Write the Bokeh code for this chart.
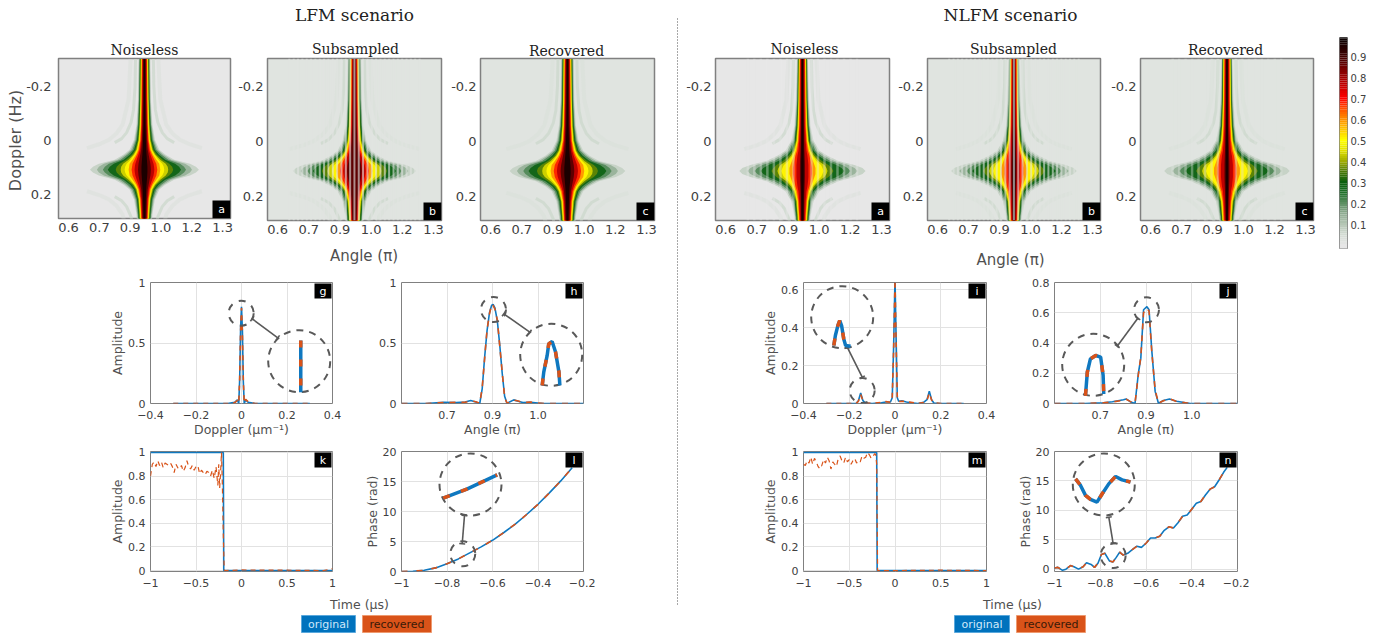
from bokeh.plotting import figure
from bokeh.layouts import column
from bokeh.models import Range1d, FixedTicker, LinearAxis
from bokeh.core.properties import value
from bokeh.embed import file_html
from bokeh.resources import INLINE

BLUE = "#0f78c0"
ORANGE = "#d95319"
GREY = "#595959"
TXT = "#404040"

# ---------- colour map (from the colour bar) ----------
CM_STOPS = [0, .05, .1, .15, .2, .25, .3, .35, .4, .45, .5, .55, .6, .65, .7, .75, .8, .85, .9, .95, 1]
CM_COLS = ["#e6e6e6", "#d3dbd3", "#b5c6b5", "#8fac92", "#5c8f62", "#1f7029", "#0b600f", "#4a7a08", "#a0ac00",
           "#e0e000", "#ffff00", "#ffc800", "#ff9000", "#ff5000", "#ff0000", "#d00000", "#a00000", "#700000",
           "#400000", "#200000", "#000000"]
CB_TICKS = [.1, .2, .3, .4, .5, .6, .7, .8, .9]

# ---------- heat map contours: half-widths (unit 0.0045 pi) per level and Doppler offset ----------
HW_UNIT = 0.0045
DY = [0, .011, .022, .037, .056, .074, .111, .167, .26, .41]
LEVELS = [.04, .10, .17, .24, .32, .40, .47, .55, .63, .72, .82, .92]
LFM_HW = [
    [55, 52, 46, 30, 21, 15, 10.5, 8, 6.5, 6],
    [48, 46, 41, 27, 19, 13.5, 9.5, 7.2, 6, 5.5],
    [42, 40, 36, 24, 17, 12, 8.5, 6.6, 5.5, 5],
    [37, 35, 31, 21, 14.5, 10.5, 7.5, 6, 5, 4.5],
    [29, 28, 25, 18.5, 12.5, 9.2, 6.6, 5.3, 4.5, 4.1],
    [24, 23.5, 21.5, 16, 11, 8.2, 5.9, 4.8, 4.1, 3.7],
    [20, 19.5, 18, 14, 10, 7.4, 5.3, 4.3, 3.7, 3.3],
    [16, 15.5, 15, 12, 8.6, 6.5, 4.6, 3.8, 3.2, 2.9],
    [13, 12.5, 12, 10, 7.4, 5.5, 4, 3.2, 2.8, 2.5],
    [10, 9.7, 9.2, 7.8, 6, 4.5, 3.3, 2.7, 2.3, 2],
    [6.5, 6.3, 6, 5.2, 4.2, 3.3, 2.5, 2, 1.6, 1.4],
    [3, 3, 2.8, 2.5, 2.1, 1.8, 1.4, 1, .8, .7],
]
NLFM_HW = [
    [63, 60, 52, 36, 25, 17, 11, 8, 6.5, 5.5],
    [55, 52, 46, 32, 22, 15, 9.8, 7.2, 5.8, 5],
    [48, 45, 40, 28, 19, 13, 8.8, 6.5, 5.2, 4.6],
    [42, 39, 34, 24, 16, 11.2, 7.8, 5.9, 4.8, 4.3],
    [31, 29, 26, 19.5, 13.5, 9.8, 6.8, 5.3, 4.4, 4],
    [25, 24, 22, 16, 11.5, 8.6, 6, 4.8, 4, 3.6],
    [21, 20, 18.5, 14, 10.2, 7.6, 5.4, 4.3, 3.6, 3.3],
    [13, 13, 12, 10.5, 8.5, 6.6, 4.7, 3.8, 3.2, 2.9],
    [9.5, 9.5, 9, 8.2, 7, 5.4, 4, 3.2, 2.8, 2.5],
    [6, 6, 6, 5.6, 5, 4, 3.2, 2.5, 2.1, 1.9],
    [2.5, 2.5, 2.5, 2.4, 2.2, 2, 1.8, 1.5, 1.3, 1.2],
    [1.3, 1.3, 1.3, 1.3, 1.2, 1.2, 1.1, 1, .9, .8],
]
LOBE_DY = [.10, .115, .137, .175, .222, .307, .41]
LOBE_IN = [30, 23, 18, 13.5, 11, 9.5, 9]
LOBE_OUT_DY = [.08, .095, .11, .135, .167, .26, .41]
LOBE_OUT = [58, 45, 36, 28, 22, 16, 14]
FINE_STRIPES = [0, 4.3, 8.6, 13, 17.3, 21.6, 26, 30.3, 34.6, 39, 43.3, 47.6, 52, 56.3, 60.6, 65]
COARSE_STRIPES = [9, 15.5, 22, 28.5, 35, 41.5, 48, 54.5]
ANGLE_TICKS = [.6, .74, .88, 1.02, 1.16, 1.3]
ANGLE_LABELS = ["0.6", "0.7", "0.9", "1.0", "1.2", "1.3"]
DOPP_TICKS = [-.2, 0, .2]
DOPP_LABELS = ["-0.2", "0", "0.2"]

# ---------- line panels ----------
g_x = [-.3, -.06, -.03, -.018, -.012, -.008, -.004, 0, .004, .008, .012, .018, .03, .06, .3]
g_o = [0, 0, .01, .03, 0, .2, .62, .8, .6, .18, 0, .03, .01, 0, 0]
g_r = [0, 0, .008, .025, .005, .21, .6, .79, .58, .19, .005, .035, .012, 0, 0]
h_x = [.6, .68, .74, .78, .81, .828, .845, .858, .866, .874, .882, .89, .897, .902, .908, .916, .924, .932, .94, .948, .958, .97, .985, 1.0, 1.025, 1.05, 1.07, 1.2]
h_o = [0, 0, .01, .008, .012, .025, .012, 0, .12, .38, .6, .75, .81, .82, .79, .68, .48, .25, .06, 0, .015, .03, .018, .008, .01, .004, 0, 0]
h_r = [0, 0, .008, .009, .01, .022, .014, .002, .13, .37, .61, .74, .82, .81, .78, .69, .47, .26, .05, .002, .013, .028, .02, .007, .012, .003, 0, 0]
i_x = [-.3, -.2, -.17, -.16, -.15, -.14, -.13, -.1, -.06, -.04, -.02, -.012, -.006, 0, .004, .01, .016, .03, .05, .07, .1, .125, .14, .15, .16, .17, .2, .3]
i_o = [0, 0, 0, .015, .055, .015, .002, 0, .004, .008, .008, .03, .3, .66, .4, .03, .012, .014, .008, .004, 0, .006, .02, .065, .02, .003, 0, 0]
i_r = [0, 0, 0, .012, .047, .014, .003, 0, .006, .01, .006, .035, .28, .65, .38, .035, .01, .012, .01, .006, 0, .005, .018, .055, .018, .004, 0, 0]
j_x = [.6, .7, .76, .79, .826, .835, .848, .864, .875, .883, .892, .903, .91, .919, .93, .941, .957, .977, 1.0, 1.045, 1.2]
j_o = [0, 0, .005, .012, .025, .03, .012, 0, .2, .3, .62, .64, .62, .35, .08, 0, .02, .03, .015, 0, 0]
j_r = [0, 0, .004, .01, .022, .028, .014, .002, .19, .31, .6, .63, .61, .34, .09, .002, .018, .032, .013, 0, 0]
k_t0 = [-1, -.2, -.195, 1]
k_o = [1, 1, 0, 0]
k_t = [-1, -.98, -.96, -.94, -.92, -.9, -.88, -.86, -.84, -.82, -.8, -.78, -.76, -.74, -.72, -.7, -.68, -.66, -.64, -.62, -.6, -.58, -.56, -.54, -.52, -.5, -.48, -.46, -.44, -.42, -.4, -.38, -.36, -.34, -.32, -.3, -.28, -.26, -.25, -.24, -.23, -.22, -.21, -.2, -.19, -.18, 0, .5, .9, 1]
k_r = [.8, .9, .92, .88, .93, .89, .92, .87, .91, .9, .89, .91, .88, .83, .9, .87, .86, .89, .84, .87, .93, .88, .86, .89, .85, .88, .89, .82, .85, .83, .81, .84, .83, .8, .85, .78, .88, .72, .9, .7, .82, 1, .72, .3, .005, 0, .005, .003, 0, .015]
l_t = [-1, -.95, -.9, -.85, -.8, -.75, -.7, -.65, -.6, -.55, -.5, -.45, -.4, -.35, -.3, -.25]
l_o = [0, .05, .2, .6, 1.3, 2.1, 3.1, 4.1, 5.2, 6.5, 7.9, 9.5, 11.2, 13.1, 15.1, 17.3]
m_t0 = [-1, -.2, -.195, 1]
m_o = [1, 1, 0, 0]
m_t = [-1, -.98, -.96, -.94, -.92, -.9, -.88, -.86, -.84, -.82, -.8, -.78, -.76, -.74, -.72, -.7, -.68, -.66, -.64, -.62, -.6, -.58, -.56, -.54, -.52, -.5, -.48, -.46, -.44, -.42, -.4, -.38, -.36, -.34, -.32, -.3, -.28, -.26, -.24, -.22, -.21, -.2, -.19, -.18, 0, .5, 1]
m_r = [.9, .89, .93, .91, .96, .9, .95, .92, .88, .86, .89, .94, .91, .96, .93, .86, .92, .9, .88, .95, .97, .93, .91, .96, .92, .94, .9, .93, .95, .91, .93, .92, .97, .95, .96, 1, .98, .95, .97, .99, .98, .9, 0, 0, 0, .003, 0]
n_t = [-1, -.985, -.965, -.95, -.93, -.915, -.895, -.875, -.86, -.84, -.825, -.81, -.795, -.78, -.76, -.745, -.73, -.715, -.7, -.68, -.66, -.64, -.62, -.6, -.58, -.56, -.54, -.52, -.5, -.48, -.46, -.44, -.42, -.4, -.38, -.36, -.34, -.32, -.3, -.28, -.26, -.245]
n_o = [.2, .3, -.2, 0, .6, .4, 0, .4, 1.1, .8, .3, 1, 2.5, 2.7, 1.4, 1.2, 2, 2.9, 2.4, 2.7, 3.3, 3.9, 3.7, 4.4, 5.3, 5.3, 5.6, 6.6, 7.2, 7, 7.9, 9, 9.2, 10.2, 11.2, 11.5, 12.6, 13.6, 14, 15.2, 16.5, 17.3]

# inset curves: coordinates normalised to the magnifier circle
ins_g_x, ins_g_y = [.05, .05], [.67, -1]
ins_h_x = [-.29, -.24, -.13, -.08, .03, .14, .25, .28]
ins_h_y = [-.99, -.56, -.02, .35, .43, .09, -.56, -.99]
ins_i_x = [-.27, -.22, -.14, -.08, -.02, .05, .11, .27]
ins_i_y = [-.91, -.59, -.27, -.11, -.27, -.70, -.91, -.94]
ins_j_x = [-.25, -.19, -.09, .08, .24, .32, .34]
ins_j_y = [-1, -.24, .19, .3, .25, -.34, -.94]
ins_l_x = [-.88, -.1, .86]
ins_l_y = [-.44, -.14, .31]
ins_n_x = [-.91, -.75, -.59, -.43, -.22, -.05, .16, .38, .59, .86]
ins_n_y = [.18, -.03, -.35, -.48, -.57, -.3, .02, .26, .15, .08]


def cmap(v):
    for i in range(len(CM_STOPS) - 1):
        if v <= CM_STOPS[i + 1]:
            f = (v - CM_STOPS[i]) / (CM_STOPS[i + 1] - CM_STOPS[i])
            a = CM_COLS[i]
            b = CM_COLS[i + 1]
            ch = [round(int(a[k:k + 2], 16) * (1 - f) + int(b[k:k + 2], 16) * f) for k in (1, 3, 5)]
            return "#%02x%02x%02x" % tuple(ch)
    return CM_COLS[-1]


def place(p, left, top):
    p.styles = {"position": "absolute", "left": f"{left}px", "top": f"{top}px"}


def make(fr, xr, yr, bl=60, bb=48, bt=12, br=12, outline=1):
    l, r, t, b = fr
    p = figure(width=bl + (r - l) + br, height=bt + (b - t) + bb, x_range=Range1d(*xr), y_range=Range1d(*yr),
               output_backend="svg", toolbar_location=None, tools="", sizing_mode="fixed", frame_align=False,
               min_border_left=bl, min_border_right=br, min_border_top=bt, min_border_bottom=bb,
               border_fill_color=None, outline_line_color="#808080", outline_line_width=outline)
    place(p, l - bl, t - bt)
    for ax in (p.xaxis[0], p.yaxis[0]):
        ax.axis_line_color = None
        ax.major_tick_line_color = None
        ax.minor_tick_line_color = None
        ax.major_tick_out = 0
        ax.major_tick_in = 0
        ax.major_label_text_color = TXT
        ax.major_label_text_font = "DejaVu Sans"
        ax.axis_label_text_font = "DejaVu Sans"
        ax.axis_label_text_font_style = "normal"
        ax.axis_label_text_color = "#505050"
    return p


def to_data(fr, xr, yr, X, Y):
    l, r, t, b = fr
    return xr[0] + (X - l) / (r - l) * (xr[1] - xr[0]), yr[0] + (b - Y) / (b - t) * (yr[1] - yr[0])


def tag(p, fr, xr, yr, letter, top):
    l, r, t, b = fr
    if top:
        x0, y0 = to_data(fr, xr, yr, r - 18, t + 1)
        x1, y1 = to_data(fr, xr, yr, r - 1, t + 16)
    else:
        x0, y0 = to_data(fr, xr, yr, r - 18, b - 18)
        x1, y1 = to_data(fr, xr, yr, r, b)
    p.quad(left=[x0], right=[x1], top=[y0], bottom=[y1], fill_color="black", line_color=None)
    p.text(x=[(x0 + x1) / 2], y=[(y0 + y1) / 2], text=[letter], text_color="white", text_font_size="11px",
           text_font=value("DejaVu Sans"), text_align="center", text_baseline="middle")


X0, Y0 = 0.945, 0.108


def heat(fr, table, scale, n_levels, bg, stripes, alpha, sw, letter, ystand=4):
    xr = (0.5545, 1.336)
    yr = (0.289, -0.3037)
    p = make(fr, xr, yr, bl=48, bb=24, bt=8, br=8, outline=1.5)
    p.grid.visible = False
    p.background_fill_color = bg
    p.xaxis.ticker = FixedTicker(ticks=ANGLE_TICKS)
    p.xaxis.major_label_overrides = dict(zip(ANGLE_TICKS, ANGLE_LABELS))
    p.yaxis.ticker = FixedTicker(ticks=DOPP_TICKS)
    p.yaxis.major_label_overrides = dict(zip(DOPP_TICKS, DOPP_LABELS))
    p.xaxis.major_label_text_font_size = "13px"
    p.yaxis.major_label_text_font_size = "13px"
    p.xaxis.major_label_standoff = 4
    p.yaxis.major_label_standoff = ystand
    # side lobes
    ix, iy, ox, oy = [], [], [], []
    for s in (-1, 1):
        for v in (-1, 1):
            ix.append([X0 + s * w * HW_UNIT * scale for w in LOBE_IN])
            iy.append([Y0 + v * d for d in LOBE_DY])
            ox.append([X0 + s * w * HW_UNIT * scale for w in LOBE_OUT])
            oy.append([Y0 + v * d for d in LOBE_OUT_DY])
    p.multi_line(xs=ox, ys=oy, line_color="#d6ded6", line_width=4, line_alpha=.4)
    p.multi_line(xs=ix, ys=iy, line_color="#ccd8cc", line_width=3, line_alpha=.75)
    # nested contour bands
    for i in range(n_levels):
        hw = table[i]
        ys = [Y0 - d for d in reversed(DY)] + [Y0 + d for d in DY[1:]]
        ws = list(reversed(hw)) + hw[1:]
        xs = [X0 - w * HW_UNIT * scale for w in ws] + [X0 + w * HW_UNIT * scale for w in reversed(ws)]
        ya = ys + list(reversed(ys))
        hi = LEVELS[i + 1] if i + 1 < len(LEVELS) else 1.0
        p.patch(x=xs, y=ya, fill_color=cmap((LEVELS[i] + hi) / 2), line_color=None)
    # interference fringes
    if stripes:
        sx = sorted({X0 + s * o * HW_UNIT for o in stripes for s in (-1, 1)})
        p.segment(x0=sx, x1=sx, y0=[yr[0]] * len(sx), y1=[yr[1]] * len(sx), line_color=bg, line_alpha=alpha, line_width=sw)
    tag(p, fr, xr, yr, letter, False)
    return p


def line_panel(fr, xr, yr, xt, yt, letter, xo, yo, xd, yd, xl=None, yl=None, xlab=None, dash="6 6", dw=1.6):
    p = make(fr, xr, yr)
    p.background_fill_color = "white"
    p.xgrid.grid_line_color = "#e2e2e2"
    p.ygrid.grid_line_color = "#e2e2e2"
    p.xaxis.ticker = FixedTicker(ticks=xt)
    p.yaxis.ticker = FixedTicker(ticks=yt)
    if xlab:
        p.xaxis.major_label_overrides = dict(zip(xt, xlab))
    p.xaxis.major_label_text_font_size = "11px"
    p.yaxis.major_label_text_font_size = "11px"
    p.xaxis.major_label_standoff = 7
    p.yaxis.major_label_standoff = 5
    if xl:
        p.xaxis.axis_label = xl
        p.xaxis.axis_label_text_font_size = "12.5px"
        p.xaxis.axis_label_standoff = 0
    if yl:
        p.yaxis.axis_label = yl
        p.yaxis.axis_label_text_font_size = "12.5px"
        p.yaxis.axis_label_standoff = 0
    p.line(xo, yo, line_color=BLUE, line_width=1.6)
    p.line(xd, yd, line_color=ORANGE, line_width=dw, line_dash=dash)
    tag(p, fr, xr, yr, letter, True)
    return p


def magnifier(p, fr, xr, yr, big, small, conn, cx, cy):
    bx, by, br_ = big
    sx, sy, sr = small
    x, y = to_data(fr, xr, yr, bx, by)
    p.scatter([x], [y], size=2 * br_, marker="circle", fill_color=None, line_color=GREY, line_width=2, line_dash="7 6")
    x, y = to_data(fr, xr, yr, sx, sy)
    p.scatter([x], [y], size=2 * sr, marker="circle", fill_color=None, line_color=GREY, line_width=2, line_dash="7 7")
    (x0, y0), (x1, y1) = conn
    a = to_data(fr, xr, yr, x0, y0)
    b = to_data(fr, xr, yr, x1, y1)
    p.line([a[0], b[0]], [a[1], b[1]], line_color=GREY, line_width=1.6)
    L = ((x1 - x0) ** 2 + (y1 - y0) ** 2) ** .5
    nx, ny = -(y1 - y0) / L * 3, (x1 - x0) / L * 3
    for (X, Y) in conn:
        c = to_data(fr, xr, yr, X - nx, Y - ny)
        d = to_data(fr, xr, yr, X + nx, Y + ny)
        p.line([c[0], d[0]], [c[1], d[1]], line_color=GREY, line_width=1.6)
    pts = [to_data(fr, xr, yr, bx + u * br_, by - v * br_) for u, v in zip(cx, cy)]
    px = [q[0] for q in pts]
    py = [q[1] for q in pts]
    p.line(px, py, line_color=BLUE, line_width=3.5)
    p.line(px, py, line_color=ORANGE, line_width=3.5, line_dash="7 12")


# ---------- background page: texts, divider, legends ----------
bg = figure(width=1376, height=633, x_range=Range1d(0, 1376), y_range=Range1d(633, 0), output_backend="svg", frame_align=False,
            toolbar_location=None, tools="", min_border=0, outline_line_color=None, border_fill_color=None, sizing_mode="fixed")
place(bg, 0, 0)
bg.axis.visible = False
bg.grid.visible = False
bg.segment(x0=[677], x1=[677], y0=[18], y1=[606], line_color="#505050", line_width=1, line_dash="1 2")
TITLE_TXT = [("LFM scenario", 354, 14, 17), ("NLFM scenario", 1010, 14, 17), ("Noiseless", 144, 49, 14), ("Subsampled", 355, 48, 14),
             ("Recovered", 566, 50, 14), ("Noiseless", 804, 48, 14), ("Subsampled", 1013, 48, 14), ("Recovered", 1225, 49, 14)]
for t, x, y, s in TITLE_TXT:
    bg.text(x=[x], y=[y], text=[t], text_font=value("DejaVu Serif"), text_font_size=f"{s}px", text_color="#222222",
            text_align="center", text_baseline="middle")
SANS_TXT = [("Angle (π)", 363.5, 255, 15, 0), ("Angle (π)", 1010, 259, 15, 0), ("Time (μs)", 359, 604, 12.5, 0), ("Time (μs)", 1012, 604, 12.5, 0),
            ("Doppler (Hz)", 15, 140, 16, 1.5708)]
for t, x, y, s, ang in SANS_TXT:
    bg.text(x=[x], y=[y], text=[t], text_font=value("DejaVu Sans"), text_font_size=f"{s}px", text_color="#505050",
            text_align="center", text_baseline="middle", angle=ang)
for x0, x1, x2, x3 in [(301, 355, 362, 431), (954, 1009, 1016, 1085)]:
    bg.quad(left=[x0], right=[x1], top=[615], bottom=[632], fill_color="#0072bd", line_color="#5aa8dc")
    bg.quad(left=[x2], right=[x3], top=[615], bottom=[632], fill_color="#d95319", line_color="#ee9a70")
    bg.text(x=[(x0 + x1) / 2], y=[624], text=["original"], text_color="#cfe8fa", text_font=value("DejaVu Sans"), text_font_size="11px",
            text_align="center", text_baseline="middle")
    bg.text(x=[(x2 + x3) / 2], y=[624], text=["recovered"], text_color="#3a1a08", text_font=value("DejaVu Sans"), text_font_size="11px",
            text_align="center", text_baseline="middle")

NOISE = "#e0e4e0"
CLEAN = "#e7e7e7"
figs = [
    heat((58, 230, 58, 218), LFM_HW, 1.0, 12, CLEAN, None, 0, 0, "a", ystand=7),
    heat((267, 441, 58, 220), LFM_HW, 1.12, 11, NOISE, FINE_STRIPES, .62, 2, "b"),
    heat((480, 654, 58, 220), LFM_HW, 1.05, 12, NOISE, None, 0, 0, "c"),
    heat((715, 889, 58, 220), NLFM_HW, 1.0, 12, CLEAN, COARSE_STRIPES, .38, 2.5, "a"),
    heat((927, 1100, 58, 220), NLFM_HW, 1.0, 12, NOISE, FINE_STRIPES, .6, 2, "b"),
    heat((1140, 1313, 58, 220), NLFM_HW, 1.0, 12, NOISE, COARSE_STRIPES, .38, 2.5, "c"),
]

# colour bar
cbfr = (1339, 1347, 37, 248)
cb = make(cbfr, (0, 1), (-.012, .995), bl=4, bb=4, bt=4, br=22)
cb.grid.visible = False
cb.xaxis.visible = False
cb.yaxis.visible = False
ax = LinearAxis(ticker=FixedTicker(ticks=CB_TICKS), axis_line_color=None, major_tick_line_color=None, minor_tick_line_color=None,
                major_tick_in=0, major_tick_out=0,
                major_label_text_font_size="10px", major_label_text_color=TXT, major_label_text_font="DejaVu Sans", major_label_standoff=3)
cb.add_layout(ax, "right")
edges = [i / 100 for i in range(-2, 101)]
cb.quad(left=[0] * (len(edges) - 1), right=[1] * (len(edges) - 1), bottom=edges[:-1], top=edges[1:],
        fill_color=[cmap(max(e, 0)) for e in edges[:-1]], line_color=None)
figs.append(cb)

DT = [-.4, -.2, 0, .2, .4]
AT = [.75, .9, 1.05]
AL = ["0.7", "0.9", "1.0"]
TT = [-1, -.5, 0, .5, 1]
PT = [-1, -.8, -.6, -.4, -.2]

fr = (150, 332, 282, 403); xr, yr = (-.4, .4), (0, 1)
p = line_panel(fr, xr, yr, DT, [0, .5, 1], "g", g_x, g_o, g_x, g_r, xl="Doppler (μm⁻¹)", yl="Amplitude", dash="5 5")
magnifier(p, fr, xr, yr, (298.7, 360.7, 31), (240.7, 312.7, 12.5), [(251.7, 318.3), (277.3, 337.3)], ins_g_x, ins_g_y)
figs.append(p)

fr = (401, 583, 282, 403); xr, yr = (.6, 1.2), (0, 1)
p = line_panel(fr, xr, yr, AT, [0, .5, 1], "h", h_x, h_o, h_x, h_r, xl="Angle (π)", xlab=AL)
magnifier(p, fr, xr, yr, (550.7, 354.3, 31), (493, 309, 12.5), [(503.3, 313.3), (529.3, 331.7)], ins_h_x, ins_h_y)
figs.append(p)

fr = (803, 986, 282, 403); xr, yr = (-.4, .4), (0, .637)
p = line_panel(fr, xr, yr, DT, [0, .2, .4, .6], "i", i_x, i_o, i_x, i_r, xl="Doppler (μm⁻¹)", yl="Amplitude", dash="5 5")
magnifier(p, fr, xr, yr, (841.7, 316.7, 31), (861.7, 390, 12.5), [(846.7, 346.7), (861.7, 376.7)], ins_i_x, ins_i_y)
figs.append(p)

fr = (1054, 1237, 282, 403); xr, yr = (.6, 1.2), (0, .8)
p = line_panel(fr, xr, yr, AT, [0, .2, .4, .6, .8], "j", j_x, j_o, j_x, j_r, xl="Angle (π)", xlab=AL)
magnifier(p, fr, xr, yr, (1092.7, 364.3, 31), (1146, 309.3, 12.5), [(1116.7, 345.7), (1137.3, 317.7)], ins_j_x, ins_j_y)
figs.append(p)

fr = (150, 332, 451, 571); xr, yr = (-1, 1), (-.008, 1.008)
p = line_panel(fr, xr, yr, TT, [0, .2, .4, .6, .8, 1], "k", k_t0, k_o, k_t, k_r, yl="Amplitude", dash="5 4", dw=1.2)
figs.append(p)

fr = (401, 583, 451, 571); xr, yr = (-1, -.2), (0, 20)
p = line_panel(fr, xr, yr, PT, [0, 5, 10, 15, 20], "l", l_t, l_o, l_t, l_o, yl="Phase (rad)", dash="6 9")
magnifier(p, fr, xr, yr, (470, 484, 31), (462.3, 553.3, 12.5), [(464, 515), (461.7, 543.3)], ins_l_x, ins_l_y)
figs.append(p)

fr = (803, 986, 451, 571); xr, yr = (-1, 1), (-.008, 1.008)
p = line_panel(fr, xr, yr, TT, [0, .2, .4, .6, .8, 1], "m", m_t0, m_o, m_t, m_r, yl="Amplitude", dash="5 4", dw=1.2)
figs.append(p)

fr = (1054, 1237, 451, 571); xr, yr = (-1, -.2), (-.4, 20)
p = line_panel(fr, xr, yr, PT, [0, 5, 10, 15, 20], "n", n_t, n_o, n_t, n_o, yl="Phase (rad)", dash="6 9")
magnifier(p, fr, xr, yr, (1103.3, 484, 31), (1112.7, 555, 12.5), [(1108.3, 516.7), (1112.7, 543.3)], ins_n_x, ins_n_y)
figs.append(p)

root = column(bg, *figs, width=1360, height=600, sizing_mode="fixed", styles={"position": "relative"})
open("out.html", "w").write(file_html(root, INLINE))
